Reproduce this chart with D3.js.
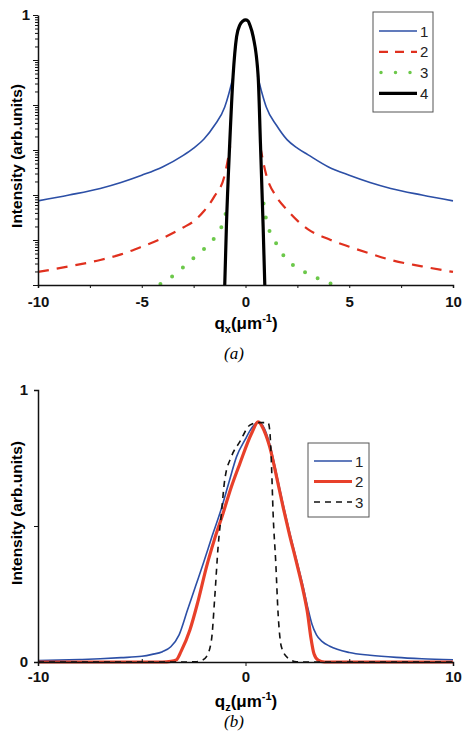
<!DOCTYPE html>
<html>
<head>
<meta charset="utf-8">
<script src="https://cdn.jsdelivr.net/npm/d3@7"></script>
<style>
  body { margin: 0; background: #fff; }
  svg { display: block; }
  .tick text { font-family: "Liberation Sans", Arial, sans-serif; font-weight: bold; font-size: 15px; fill: #111; }
</style>
</head>
<body>
<svg width="462" height="732"></svg>
<script>
// ---- panel (a): q_x profiles, log intensity (null = hidden behind curve 4) ----
var qxBlue  = [-10, -8.5, -7, -6, -5, -4, -3, -2.5, -2, -1.5, -1, -0.8, -0.6, 0, 0.58, 0.8, 1, 1.5, 2, 2.5, 3, 4, 5, 6, 7, 8.5, 10];
var iBlue   = [7.4e-5, 1.0e-4, 1.4e-4, 1.9e-4, 2.75e-4, 4.2e-4, 7.6e-4, 1.1e-3, 1.75e-3, 3.5e-3, 9e-3, 0.018, 0.042, null, 0.045, 0.018, 9e-3, 3.5e-3, 1.7e-3, 1.1e-3, 7.9e-4, 4.2e-4, 2.75e-4, 1.9e-4, 1.4e-4, 1.0e-4, 7.4e-5];

var qxRed   = [-10, -8.5, -7, -6, -5, -4, -3, -2.5, -2, -1.5, -1, -0.74, 0, 0.71, 1, 1.5, 2, 2.5, 3, 4, 5, 6, 7, 8.5, 10];
var iRed    = [1.95e-6, 2.6e-6, 3.6e-6, 4.8e-6, 7.1e-6, 1.1e-5, 1.9e-5, 2.6e-5, 4.4e-5, 9.3e-5, 2.8e-4, 1.2e-3, null, 1.2e-3, 2.8e-4, 9e-5, 4.7e-5, 2.7e-5, 1.75e-5, 1.05e-5, 7.1e-6, 5e-6, 3.6e-6, 2.6e-6, 1.95e-6];

var qxGreen = [-4.1, -3.5, -3, -2.5, -2, -1.5, -1.2, -1, -0.9, 0, 0.87, 1, 1.4, 2, 2.5, 3, 3.5, 4.15];
var iGreen  = [1.05e-6, 1.6e-6, 2.5e-6, 4e-6, 6.3e-6, 1.1e-5, 1.8e-5, 3e-5, 5.5e-5, null, 6.5e-5, 2.8e-5, 1e-5, 3.6e-6, 2.4e-6, 1.8e-6, 1.4e-6, 1.05e-6];

var qxBlack = [-1.0, -0.92, -0.76, -0.6, -0.43, -0.27, -0.12, 0, 0.12, 0.21, 0.37, 0.61, 0.72, 0.85, 0.93];
var iBlack  = [1e-6, 2e-5, 1.4e-3, 0.043, 0.33, 0.6, 0.74, 0.78, 0.74, 0.6, 0.33, 0.043, 1.4e-3, 2e-5, 1e-6];

// ---- panel (b): q_z profiles, linear intensity ----
var qzBlue  = [-10, -8, -7, -6, -5, -4.5, -4, -3.6, -3.2, -2.8, -2.4, -2, -1.6, -1.2, -0.8, -0.43, 0, 0.21, 0.4, 0.61, 0.9, 1.17, 1.5, 1.81, 2.1, 2.46, 2.8, 3, 3.2, 3.42, 3.7, 4.06, 5, 6, 7.27, 8.5, 10];
var vBlue   = [0.005, 0.009, 0.012, 0.016, 0.021, 0.028, 0.038, 0.056, 0.1, 0.19, 0.28, 0.37, 0.465, 0.555, 0.66, 0.755, 0.82, 0.85, 0.87, 0.883, 0.86, 0.8, 0.69, 0.58, 0.485, 0.375, 0.27, 0.2, 0.14, 0.1, 0.075, 0.058, 0.035, 0.025, 0.017, 0.012, 0.008];

var qzRed   = [-10, -6, -4, -3.6, -3.33, -3.1, -2.68, -2.3, -1.88, -1.5, -1.08, -0.7, -0.27, 0.29, 0.61, 0.9, 1.17, 1.5, 1.81, 2.1, 2.46, 2.8, 3.0, 3.15, 3.3, 3.5, 3.8, 5, 10];
var vRed    = [0, 0, 0, 0.002, 0.008, 0.04, 0.118, 0.22, 0.35, 0.45, 0.547, 0.64, 0.73, 0.84, 0.883, 0.85, 0.79, 0.68, 0.57, 0.475, 0.365, 0.255, 0.175, 0.09, 0.03, 0.007, 0, 0, 0];

var qzBlack = [-10, -5, -3, -2.36, -2.1, -1.88, -1.64, -1.48, -1.32, -1.16, -1.0, -0.68, -0.27, 0.21, 0.6, 1.09, 1.17, 1.25, 1.33, 1.46, 1.57, 1.73, 2.05, 2.46, 3, 5, 10];
var vBlack  = [0, 0, 0, 0.001, 0.006, 0.02, 0.081, 0.24, 0.424, 0.547, 0.67, 0.755, 0.81, 0.871, 0.88, 0.88, 0.85, 0.73, 0.547, 0.363, 0.179, 0.056, 0.014, 0.001, 0, 0, 0];

var xTicksMajor = [-10, -5, 0, 5, 10];
var xTicksMinor = [-7.5, -2.5, 2.5, 7.5];
var legendA = ["1", "2", "3", "4"];
var legendB = ["1", "2", "3"];

var svg = d3.select("svg");
var font = "'Liberation Sans', Arial, sans-serif";

function zip(xs, ys) {
    return xs.map(function(x, i) { return [x, ys[i]]; });
}
// plain hyphen minus like the original figure
function plain(d) { return String(d); }

// ================= panel (a) =================
var xA = d3.scaleLinear().domain([-10, 10]).range([38, 453]);
var yA = d3.scaleLog().domain([1e-6, 1]).range([285, 15]);

var gA = svg.append("g");

var lineA = d3.line()
    .defined(function(d) { return d[1] != null; })
    .x(function(d) { return xA(d[0]); })
    .y(function(d) { return yA(d[1]); })
    .curve(d3.curveMonotoneX);

var seriesA = [
    { data: zip(qxBlue, iBlue),   stroke: "#2c4fa6", width: 1.6, dash: null, cap: "butt" },
    { data: zip(qxRed, iRed),     stroke: "#e0301e", width: 2.2, dash: "11,8", cap: "butt" },
    { data: zip(qxGreen, iGreen), stroke: "#6cc84a", width: 4,   dash: "0,14", cap: "round" },
    { data: zip(qxBlack, iBlack), stroke: "#000",    width: 3.2, dash: null, cap: "butt" }
];

gA.selectAll("path.curve")
    .data(seriesA)
    .enter().append("path")
    .attr("class", "curve")
    .attr("d", function(d) { return lineA(d.data); })
    .attr("fill", "none")
    .attr("stroke", function(d) { return d.stroke; })
    .attr("stroke-width", function(d) { return d.width; })
    .attr("stroke-dasharray", function(d) { return d.dash; })
    .attr("stroke-linecap", function(d) { return d.cap; });

// x axis (a)
var axXA = gA.append("g")
    .attr("transform", "translate(0,285)")
    .call(d3.axisBottom(xA).tickValues(xTicksMajor).tickSize(3).tickPadding(8).tickFormat(plain));
gA.append("g")
    .attr("transform", "translate(0,285)")
    .call(d3.axisBottom(xA).tickValues(xTicksMinor).tickSize(3).tickFormat(""))
    .select(".domain").remove();

// y axis (a) - log with minor ticks
var axYA = gA.append("g")
    .attr("transform", "translate(38,0)")
    .call(d3.axisLeft(yA).tickSize(0).tickPadding(8)
        .tickFormat(function(d) { return d === 1 ? "1" : ""; }));
axYA.selectAll(".tick line")
    .attr("x2", function(d) {
        var m = Math.round(d / Math.pow(10, Math.floor(Math.log10(d) + 1e-9)));
        return m === 1 ? -5 : -3;
    });

[axXA, axYA].forEach(function(a) {
    a.select(".domain").attr("stroke", "#111").attr("stroke-width", 1.5);
});
gA.selectAll(".tick line").attr("stroke", "#111");

// axis titles (a)
gA.append("text")
    .attr("transform", "translate(22,156)rotate(-90)")
    .attr("text-anchor", "middle")
    .style("font-family", font).style("font-weight", "bold").style("font-size", "15.5px")
    .text("Intensity (arb.units)");

function qTitle(g, x, y, sub) {
    var t = g.append("text")
        .attr("x", x).attr("y", y)
        .attr("text-anchor", "middle")
        .style("font-family", font).style("font-weight", "bold").style("font-size", "17px");
    t.append("tspan").text("q");
    t.append("tspan").attr("dy", 4).style("font-size", "11px").text(sub);
    t.append("tspan").attr("dy", -4).text("(\u03bcm");
    t.append("tspan").attr("dy", -7).style("font-size", "11px").text("-1");
    t.append("tspan").attr("dy", 7).text(")");
}
qTitle(gA, 246, 329, "x");

svg.append("text")
    .attr("x", 234).attr("y", 359)
    .attr("text-anchor", "middle")
    .style("font-family", "'Liberation Serif', 'Times New Roman', serif")
    .style("font-style", "italic").style("font-size", "17px")
    .text("(a)");

// legend (a)
var legA = gA.append("g");
legA.append("rect")
    .attr("x", 373).attr("y", 12).attr("width", 60).attr("height", 100)
    .attr("fill", "#fff").attr("stroke", "#555").attr("stroke-width", 1);
var legARows = legA.selectAll("g.row")
    .data(seriesA)
    .enter().append("g")
    .attr("class", "row")
    .attr("transform", function(d, i) { return "translate(0," + (31 + i * 20.8) + ")"; });
legARows.append("line")
    .attr("x1", function(d, i) { return i === 2 ? 381 : 379; })
    .attr("x2", 417)
    .attr("stroke", function(d) { return d.stroke; })
    .attr("stroke-width", function(d, i) { return i === 2 ? 3.5 : d.width; })
    .attr("stroke-dasharray", function(d, i) { return i === 1 ? "9,7" : (i === 2 ? "0,14.5" : null); })
    .attr("stroke-linecap", function(d) { return d.cap; });
legARows.append("text")
    .attr("x", 420).attr("y", 5.5)
    .style("font-family", font).style("font-size", "15px").attr("fill", "#222")
    .text(function(d, i) { return legendA[i]; });

// ================= panel (b) =================
var xB = d3.scaleLinear().domain([-10, 10]).range([38, 453]);
var yB = d3.scaleLinear().domain([0, 1]).range([662, 390]);

var gB = svg.append("g");

var lineB = d3.line()
    .x(function(d) { return xB(d[0]); })
    .y(function(d) { return yB(d[1]); })
    .curve(d3.curveMonotoneX);

var seriesB = [
    { data: zip(qzBlue, vBlue),   stroke: "#2c4fa6", width: 1.6, dash: null },
    { data: zip(qzRed, vRed),     stroke: "#e8402a", width: 3.2, dash: null },
    { data: zip(qzBlack, vBlack), stroke: "#111",    width: 1.6, dash: "6,5" }
];

gB.selectAll("path.curve")
    .data(seriesB)
    .enter().append("path")
    .attr("class", "curve")
    .attr("d", function(d) { return lineB(d.data); })
    .attr("fill", "none")
    .attr("stroke", function(d) { return d.stroke; })
    .attr("stroke-width", function(d) { return d.width; })
    .attr("stroke-dasharray", function(d) { return d.dash; });

var axXB = gB.append("g")
    .attr("transform", "translate(0,662)")
    .call(d3.axisBottom(xB).tickValues([-10, 0, 10]).tickSize(4).tickPadding(5).tickFormat(plain));
gB.append("g")
    .attr("transform", "translate(0,662)")
    .call(d3.axisBottom(xB).tickValues([-5, 5]).tickSize(-3).tickFormat(""))
    .select(".domain").remove();

var axYB = gB.append("g")
    .attr("transform", "translate(38,0)")
    .call(d3.axisLeft(yB).tickValues([0, 0.5, 1]).tickSize(4).tickPadding(6)
        .tickFormat(function(d) { return d === 0.5 ? "" : plain(d); }));

[axXB, axYB].forEach(function(a) {
    a.select(".domain").attr("stroke", "#111").attr("stroke-width", 1.5);
});
gB.selectAll(".tick line").attr("stroke", "#111");

gB.append("text")
    .attr("transform", "translate(22,513)rotate(-90)")
    .attr("text-anchor", "middle")
    .style("font-family", font).style("font-weight", "bold").style("font-size", "15.5px")
    .text("Intensity (arb.units)");

qTitle(gB, 246, 707, "z");

svg.append("text")
    .attr("x", 234).attr("y", 727)
    .attr("text-anchor", "middle")
    .style("font-family", "'Liberation Serif', 'Times New Roman', serif")
    .style("font-style", "italic").style("font-size", "17px")
    .text("(b)");

// legend (b)
var legB = gB.append("g");
legB.append("rect")
    .attr("x", 308).attr("y", 443).attr("width", 61).attr("height", 74)
    .attr("fill", "#fff").attr("stroke", "#555").attr("stroke-width", 1);
var legBRows = legB.selectAll("g.row")
    .data(seriesB)
    .enter().append("g")
    .attr("class", "row")
    .attr("transform", function(d, i) { return "translate(0," + (461 + i * 20.5) + ")"; });
legBRows.append("line")
    .attr("x1", 314).attr("x2", 352)
    .attr("stroke", function(d) { return d.stroke; })
    .attr("stroke-width", function(d) { return d.width; })
    .attr("stroke-dasharray", function(d) { return d.dash; });
legBRows.append("text")
    .attr("x", 355).attr("y", 5.5)
    .style("font-family", font).style("font-size", "15px").attr("fill", "#222")
    .text(function(d, i) { return legendB[i]; });
</script>
</body>
</html>
